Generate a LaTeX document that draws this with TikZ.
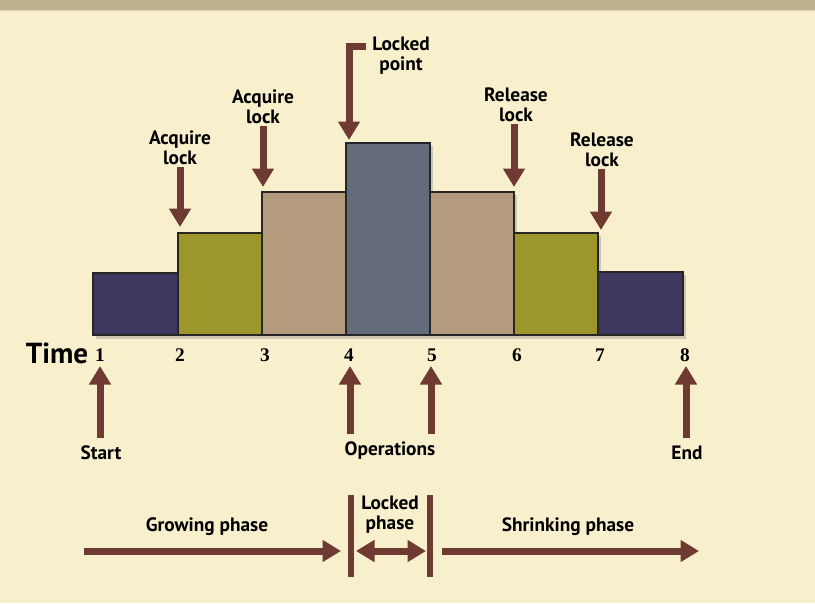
\documentclass[tikz,border=0pt]{standalone}
\usepackage{fontspec}
\setmainfont{PT Sans}
\newfontfamily\numfont{Liberation Serif}
\usetikzlibrary{positioning,arrows.meta,calc}

\definecolor{bgcream}{RGB}{248,240,204}
\definecolor{bandtan}{RGB}{190,176,140}
\definecolor{arrowbrown}{RGB}{110,58,50}
\definecolor{barnavy}{RGB}{62,56,96}
\definecolor{barolive}{RGB}{157,150,42}
\definecolor{bartan}{RGB}{180,155,126}
\definecolor{barslate}{RGB}{100,108,124}

\tikzset{
  lbl/.style={font=\bfseries\fontsize{11}{11.3}\selectfont, align=center, inner sep=1pt},
  timelbl/.style={font=\bfseries\fontsize{16.5}{18}\selectfont, inner sep=0pt, anchor=base},
  num/.style={font=\numfont\bfseries\fontsize{11}{12}\selectfont, inner sep=0pt, anchor=base},
  marker/.style={->, draw=arrowbrown, line width=0.14cm},
  sep/.style={draw=arrowbrown, line width=0.12cm},
  bar/.style={draw=black!85, line width=1.2pt}
}

\begin{document}
\begin{tikzpicture}[x=0.02cm,y=-0.02cm,>={Triangle[width=0.42cm,length=0.37cm]}]
  \fill[bgcream] (0,0) rectangle (815,603);
  \useasboundingbox (0,0) rectangle (815,603);
  \fill[bandtan] (0,0) rectangle (815,10);
  \draw[bandtan!60,line width=0.6pt] (0,10.5) -- (815,10.5);

  % bars
  \foreach \xl/\xr/\yt in {93/178/273,178/262/233,262/346/192,346/430/143,430/514/192,514/598/233,598/683/272}
    \fill[black!40,opacity=.45] (\xl+3,\yt+3) rectangle (\xr+3,339);
  \foreach \xl/\xr/\yt/\col in {93/178/273/barnavy,178/262/233/barolive,262/346/192/bartan,346/430/143/barslate,430/514/192/bartan,514/598/233/barolive,598/683/272/barnavy}
    \draw[bar,fill=\col] (\xl,\yt) rectangle (\xr,335);

  % time axis
  \foreach \n/\x in {1/100,2/180,3/265,4/349,5/432,6/517,7/600,8/685}
    \node[num] (n\n) at (\x,361) {\n};
  \node[timelbl] (time) at (57,363) {Time};

  % lock events
  \coordinate (t2) at (180,227);
  \coordinate (t3) at (263,187);
  \coordinate (t4) at (349,140);
  \coordinate (t6) at (514,187);
  \coordinate (t7) at (601,230);
  \node[lbl] (acq1) at (180,148) {Acquire\\lock};
  \node[lbl] (acq2) at (263,107) {Acquire\\lock};
  \node[lbl] (lockpt) at (401,56) {Locked\\point};
  \node[lbl] (rel1) at (516,105) {Release\\lock};
  \node[lbl] (rel2) at (602,150) {Release\\lock};
  \draw[marker] (acq1) -- (t2);
  \draw[marker] (acq2) -- (t3);
  \draw[marker,line join=miter] ([yshift=0.2cm,xshift=-0.08cm]lockpt.west) -| (t4);
  \draw[marker] (rel1.south -| t6) -- (t6);
  \draw[marker] (rel2.south -| t7) -- (t7);

  % start, operations, end
  \coordinate (u1) at (100,366);
  \coordinate (u4) at (350,366);
  \coordinate (u5) at (431,366);
  \coordinate (u8) at (686,366);
  \node[lbl] (start) at (101,453) {Start};
  \node[lbl] (ops) at (390,451) {Operations};
  \node[lbl] (end) at (687,453) {End};
  \draw[marker,shorten <=0.12cm] (start.north -| u1) -- (u1);
  \draw[marker,shorten <=0.12cm] (ops.north -| u4) -- (u4);
  \draw[marker,shorten <=0.12cm] (ops.north -| u5) -- (u5);
  \draw[marker,shorten <=0.12cm] (end.north -| u8) -- (u8);

  % phases
  \node[lbl] (grow) at (207,527) {Growing phase};
  \node[lbl] (lockph) at (390,515) {Locked\\phase};
  \node[lbl] (shrink) at (568,527) {Shrinking phase};
  \draw[sep] (351,495) -- (351,577);
  \draw[sep] (430,495) -- (430,577);
  \coordinate (gs) at (84,551);
  \coordinate (ge) at (341,551);
  \coordinate (ls) at (356,551);
  \coordinate (le) at (426,551);
  \coordinate (ss) at (442,551);
  \coordinate (se) at (699,551);
  \draw[marker] (gs) -- (ge);
  \draw[marker,<->] (ls) -- (le);
  \draw[marker] (ss) -- (se);
\end{tikzpicture}
\end{document}
